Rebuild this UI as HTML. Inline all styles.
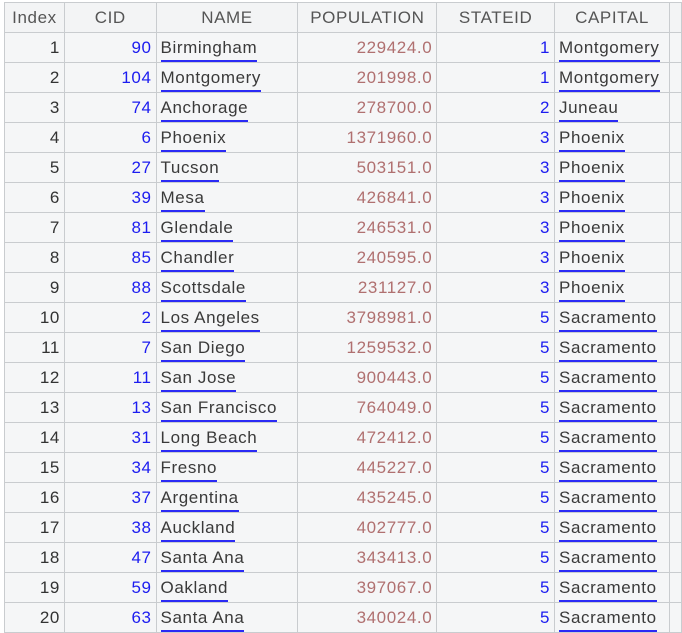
<!DOCTYPE html>
<html><head><meta charset="utf-8"><style>
body{margin:0;width:682px;height:624px;overflow:hidden;background:#fff;font-family:"Liberation Sans",sans-serif;}
table{position:absolute;left:4px;top:2px;border-collapse:collapse;table-layout:fixed;font-size:17px;letter-spacing:0.6px;}
td,th{border:1px solid #c9cccf;height:29px;padding:0 4px;white-space:nowrap;overflow:hidden;background:#f5f6f7;}
th{height:29px;font-weight:normal;color:#555;text-align:center;background:#f3f4f5;}
td{color:#333;}
.r{text-align:right;}
.b{color:#1c1cf0;}
.p{color:#b07070;}
.u{display:inline-block;line-height:20px;padding-bottom:2px;margin-bottom:-4px;border-bottom:2px solid #2a2af5;color:#3a3a3a;}
</style></head><body>
<table>
<colgroup><col style="width:60px"><col style="width:92px"><col style="width:142px"><col style="width:139px"><col style="width:118px"><col style="width:115px"><col style="width:12px"></colgroup>
<thead><tr>
<th>Index</th>
<th>CID</th>
<th>NAME</th>
<th>POPULATION</th>
<th>STATEID</th>
<th>CAPITAL</th>
<th></th>
</tr></thead>
<tbody id="tb"></tbody></table>
<script>
const cids=[90,104,74,6,27,39,81,85,88,2,7,11,13,31,34,37,38,47,59,63];
const names=["Birmingham","Montgomery","Anchorage","Phoenix","Tucson","Mesa","Glendale","Chandler","Scottsdale","Los Angeles","San Diego","San Jose","San Francisco","Long Beach","Fresno","Argentina","Auckland","Santa Ana","Oakland","Santa Ana"];
const pops=["229424.0","201998.0","278700.0","1371960.0","503151.0","426841.0","246531.0","240595.0","231127.0","3798981.0","1259532.0","900443.0","764049.0","472412.0","445227.0","435245.0","402777.0","343413.0","397067.0","340024.0"];
const states=[1,1,2,3,3,3,3,3,3,5,5,5,5,5,5,5,5,5,5,5];
const caps=["Montgomery","Montgomery","Juneau","Phoenix","Phoenix","Phoenix","Phoenix","Phoenix","Phoenix","Sacramento","Sacramento","Sacramento","Sacramento","Sacramento","Sacramento","Sacramento","Sacramento","Sacramento","Sacramento","Sacramento"];
const tb=document.getElementById('tb');
for(let i=0;i<cids.length;i++){
 const tr=document.createElement('tr');
 
 
 tr.innerHTML=`<td class="r">${i+1}</td><td class="r b">${cids[i]}</td><td><span class="u">${names[i]}</span></td><td class="r p">${pops[i]}</td><td class="r b">${states[i]}</td><td><span class="u">${caps[i]}</span></td><td></td>`;
 tb.appendChild(tr);
}
</script>
</body></html>
